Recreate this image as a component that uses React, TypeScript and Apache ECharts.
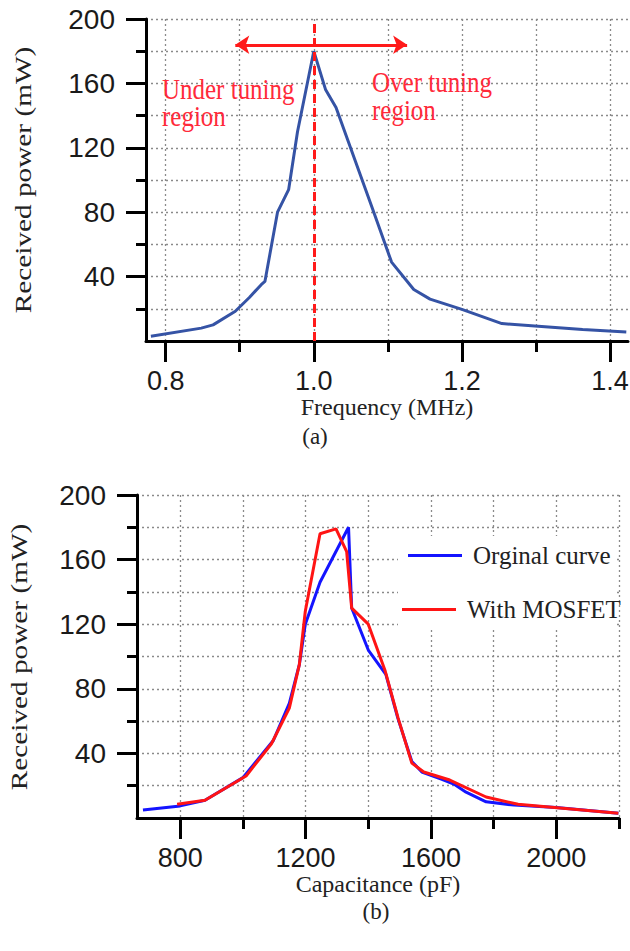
import React, { useEffect, useRef } from "react";
import * as echarts from "echarts";

// (a) Received power vs frequency
const topFreq = [0.780, 0.848, 0.864, 0.894, 0.913, 0.929, 0.934, 0.951, 0.966, 0.978, 1.0, 1.016, 1.03, 1.081, 1.105, 1.135, 1.157, 1.2, 1.254, 1.303, 1.363, 1.422];
const topPower = [3, 8, 10, 18.5, 27, 35, 37, 80, 94, 130, 180, 156, 145, 80, 49, 32, 26, 19.6, 10.8, 9.2, 7.1, 5.6];

// (b) Received power vs capacitance
const capOriginal = [681, 800, 879, 1000, 1097, 1148, 1180, 1199, 1246, 1337, 1347, 1400, 1456, 1494, 1539, 1571, 1635, 1673, 1712, 1776, 1865, 2000, 2198];
const powerOriginal = [5, 7.5, 11, 25, 48, 71, 95, 120, 146, 180, 130, 104, 89, 62, 35, 28.5, 24, 21, 16, 10, 8, 6.5, 3];
const capMosfet = [790, 879, 1010, 1091, 1148, 1180, 1199, 1246, 1297, 1331, 1347, 1400, 1454, 1495, 1539, 1577, 1660, 1776, 1878, 2198];
const powerMosfet = [8.5, 11, 26, 46, 68, 95, 128, 176, 179, 165, 130, 120, 91, 62, 34, 28.5, 23.5, 13, 8.5, 3];

const seriesNames = ["Orginal curve", "With MOSFET"];

// ticks
const freqMajorTicks = [0.8, 1.0, 1.2, 1.4];
const freqMinorTicks = [0.9, 1.1, 1.3];
const capMajorTicks = [800, 1200, 1600, 2000];
const capMinorTicks = [1000, 1400, 1800, 2200];
const powerTicks = [40, 80, 120, 160, 200];

// annotations (data space)
const resonanceFreq = 1.0;
const arrowFreq = [0.894, 1.126];
const arrowPower = 184;

const SANS = "Liberation Sans, Arial, sans-serif";
const SERIF = "Liberation Serif, Times New Roman, serif";
const AXIS = "#000";
const GRIDC = "#8a8a8a";
const RED_TEXT = "#ff2a3a";

function zip(a: number[], b: number[]) {
  return a.map((v, i) => [v, b[i]]);
}

const gridLine = { show: true, lineStyle: { color: GRIDC, type: [2, 3] as any, width: 1.3 } };

function yAxisFor(gridIndex: number) {
  return {
    type: "value",
    gridIndex,
    min: 0,
    max: 200,
    interval: 40,
    axisLine: { show: true, lineStyle: { color: AXIS, width: 3 } },
    axisTick: { show: true, length: 20, lineStyle: { color: AXIS, width: 3 }, customValues: powerTicks },
    minorTick: { show: true, splitNumber: 2, length: 10, lineStyle: { color: AXIS, width: 3 } },
    axisLabel: { customValues: powerTicks, fontSize: 28, fontFamily: SANS, color: "#1a1a1a", margin: 31 },
    splitLine: gridLine,
    minorSplitLine: gridLine,
  };
}

function xMajor(gridIndex: number, min: number, max: number, ticks: number[], name: string, gap: number, fmt: (v: number) => string) {
  return {
    type: "value",
    gridIndex,
    min,
    max,
    position: "bottom",
    axisLine: { show: true, lineStyle: { color: AXIS, width: 3 } },
    axisTick: { show: true, length: 21, lineStyle: { color: AXIS, width: 3 }, customValues: ticks },
    axisLabel: { customValues: ticks, fontSize: 27, fontFamily: SANS, color: "#1a1a1a", margin: 26, formatter: fmt },
    splitLine: gridLine,
    name,
    nameLocation: "middle",
    nameGap: gap,
    nameTextStyle: { fontSize: 24, fontFamily: SERIF, color: "#222" },
  };
}

function xMinor(gridIndex: number, min: number, max: number, ticks: number[]) {
  return {
    type: "value",
    gridIndex,
    min,
    max,
    position: "bottom",
    axisLine: { show: false },
    axisTick: { show: true, length: 11, lineStyle: { color: AXIS, width: 3 }, customValues: ticks },
    axisLabel: { show: false },
    splitLine: gridLine,
  };
}

function note(text: string, x: number, y: number) {
  return {
    type: "text",
    z: 5,
    x,
    y,
    scaleY: 1.18,
    style: { text, fontSize: 25, fontFamily: SERIF, fill: RED_TEXT, verticalAlign: "middle" },
  };
}

function yTitle(x: number, y: number) {
  return {
    type: "text",
    z: 5,
    x,
    y,
    rotation: Math.PI / 2,
    scaleX: 1.22,
    style: { text: "Received power (mW)", fontSize: 24, fontFamily: SERIF, fill: "#222", align: "center", verticalAlign: "middle" },
  };
}

function caption(text: string, x: number, y: number) {
  return {
    type: "text",
    z: 5,
    x,
    y,
    style: { text, fontSize: 23, fontFamily: SERIF, fill: "#222", align: "center", verticalAlign: "middle" },
  };
}

export default function App() {
  const ref = useRef<HTMLDivElement>(null);
  useEffect(() => {
    if (!ref.current) return;
    const chart = echarts.init(ref.current, null, { renderer: "svg" });
    const legendBase = {
      padding: 0,
      itemWidth: 54,
      itemHeight: 3,
      icon: "rect",
      selectedMode: false,
      textStyle: { fontSize: 25, fontFamily: SERIF, color: "#222", padding: [0, 0, 0, 6] },
    };
    const option: any = {
      animation: false,
      backgroundColor: "#fff",
      grid: [
        { left: 146, top: 19, width: 482, height: 322, outerBoundsMode: "none" },
        { left: 137, top: 495, width: 482, height: 323, outerBoundsMode: "none" },
      ],
      xAxis: [
        xMajor(0, 0.7734, 1.4243, freqMajorTicks, "Frequency (MHz)", 45, (v: number) => v.toFixed(1)),
        xMinor(0, 0.7734, 1.4243, freqMinorTicks),
        xMajor(1, 662, 2200, capMajorTicks, "Capacitance (pF)", 44, (v: number) => String(Math.round(v))),
        xMinor(1, 662, 2200, capMinorTicks),
      ],
      yAxis: [yAxisFor(0), yAxisFor(1)],
      legend: [
        { ...legendBase, data: [seriesNames[0]], left: 408, top: 543 },
        { ...legendBase, data: [seriesNames[1]], left: 402, top: 597 },
      ],
      graphic: [
        { type: "rect", z: 3, shape: { x: 398, y: 536, width: 218, height: 92 }, style: { fill: "#fff" } },
        note("Under tuning", 162, 89),
        note("region", 162, 116),
        note("Over tuning", 372, 82),
        note("region", 372, 110),
        yTitle(23, 180),
        yTitle(19, 657),
        caption("(a)", 315, 436),
        caption("(b)", 376, 911),
      ],
      series: [
        {
          name: "Frequency response",
          type: "line",
          xAxisIndex: 0,
          yAxisIndex: 0,
          data: zip(topFreq, topPower),
          symbol: "none",
          lineStyle: { color: "#3553a5", width: 3 },
          z: 3,
          markLine: {
            silent: true,
            symbol: "none",
            label: { show: false },
            lineStyle: { color: "#ff1a1a", width: 3, type: "solid" },
            data: [
              { xAxis: resonanceFreq, lineStyle: { color: "#ff1a1a", width: 3, type: [9, 5] } },
              [
                { coord: [arrowFreq[0], arrowPower], symbol: "arrow", symbolSize: 14, lineStyle: { type: "solid" } },
                { coord: [arrowFreq[1], arrowPower], symbol: "arrow", symbolSize: 14 },
              ],
            ],
          },
        },
        {
          name: seriesNames[0],
          type: "line",
          xAxisIndex: 2,
          yAxisIndex: 1,
          data: zip(capOriginal, powerOriginal),
          symbol: "none",
          itemStyle: { color: "#1414ff" },
          lineStyle: { color: "#1414ff", width: 3 },
        },
        {
          name: seriesNames[1],
          type: "line",
          xAxisIndex: 2,
          yAxisIndex: 1,
          data: zip(capMosfet, powerMosfet),
          symbol: "none",
          itemStyle: { color: "#ff1414" },
          lineStyle: { color: "#ff1414", width: 3 },
        },
      ],
    };
    chart.setOption(option);
    return () => chart.dispose();
  }, []);
  return <div ref={ref} style={{ position: "absolute", left: 0, top: 0, width: 630, height: 951, background: "#fff" }} />;
}
